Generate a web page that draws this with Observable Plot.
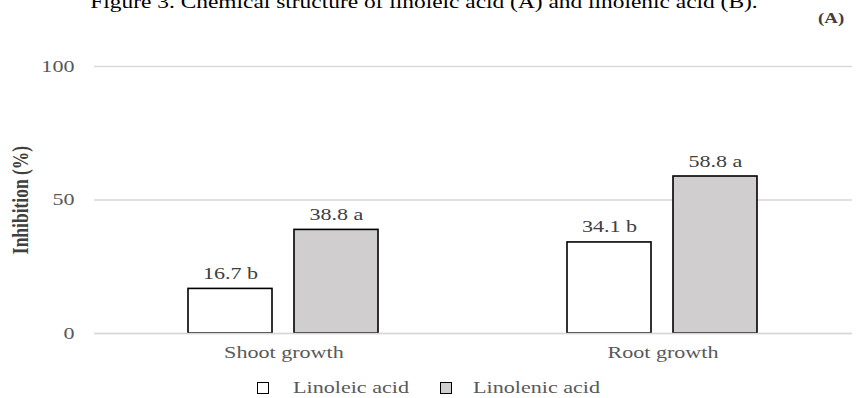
<!DOCTYPE html>
<html>
<head>
<meta charset="utf-8">
<script src="https://cdn.jsdelivr.net/npm/d3@7"></script>
<script src="https://cdn.jsdelivr.net/npm/@observablehq/plot@0.6"></script>
<style>
  html, body { margin: 0; padding: 0; background: #fff; }
  #wrap { width: 862px; font-family: "Liberation Serif", "Times New Roman", serif; }
  #head { position: relative; height: 40px; overflow: hidden; }
  #title { position: absolute; top: -8px; left: 0; width: 848px; text-align: center; font-size: 18px; line-height: 20px; color: #000; white-space: nowrap; transform: scaleX(1.3); transform-origin: 424px 0; }
  #tag { position: absolute; top: 10px; left: 818px; font-size: 14.5px; font-weight: bold; color: #404040; transform: scaleX(1.3); transform-origin: 0 0; }
  #legend { position: relative; height: 33px; font-size: 17px; color: #595959; }
  .sw { position: absolute; top: 17px; box-sizing: border-box; width: 12px; height: 12px; border: 1.6px solid #000; }
  .lt { position: absolute; top: 13px; line-height: 20px; white-space: nowrap; transform: scaleX(1.3); transform-origin: 0 0; }
  svg { display: block; }
</style>
</head>
<body>
<div id="wrap">
  <div id="head">
    <div id="title">Figure 3. Chemical structure of linoleic acid (A) and linolenic acid (B).</div>
    <div id="tag">(A)</div>
  </div>
  <div id="chart"></div>
  <div id="legend"></div>
</div>
<script>
// Growth parameters and the two fatty acids tested
const categories = ["Shoot growth", "Root growth"];
const acids = ["Linoleic acid", "Linolenic acid"];
const linoleic = [16.7, 34.1];
const linolenic = [38.8, 58.8];
const linoleicLetters = ["b", "b"];
const linolenicLetters = ["a", "a"];
const yTicks = [0, 50, 100];
const fills = ["#ffffff", "#d0cece"];

const rows = [];
categories.forEach((c, i) => {
  rows.push({category: c, acid: acids[0], value: linoleic[i], letter: linoleicLetters[i]});
  rows.push({category: c, acid: acids[1], value: linolenic[i], letter: linolenicLetters[i]});
});

const chart = Plot.plot({
  width: 862,
  height: 325,
  marginTop: 26,
  marginBottom: 32,
  marginLeft: 94,
  marginRight: 10,
  style: {fontFamily: "'Liberation Serif', 'Times New Roman', serif", fontSize: "17px", color: "#595959", background: "#fff"},
  fx: {domain: categories, paddingInner: 0, paddingOuter: 0, label: null},
  x: {domain: acids, paddingInner: 0.2056, paddingOuter: 0.874, axis: null},
  y: {domain: [0, 100], ticks: yTicks},
  color: {domain: acids, range: fills},
  marks: [
    // horizontal gridlines, repeated in each facet so they run across the full width
    Plot.ruleY(yTicks, {stroke: "#d9d9d9", strokeWidth: 1.3}),
    Plot.barY(rows, {fx: "category", x: "acid", y: "value", fill: "acid", stroke: "#000", strokeWidth: 1.6}),
    // baseline drawn over the bars' bottom edges
    Plot.ruleY([0], {stroke: "#d9d9d9", strokeWidth: 1.6}),
    Plot.text(rows, {fx: "category", x: "acid", y: "value", text: d => `${d.value.toFixed(1)} ${d.letter}`,
      dy: -10, lineAnchor: "bottom", fill: "#404040", fontSize: 17}),
    Plot.axisY({ticks: yTicks, tickSize: 0, tickPadding: 20, fill: "#595959", fontSize: 17,
      label: "Inhibition (%)", labelAnchor: "center", labelArrow: "none", labelOffset: 81}),
    Plot.axisFx({anchor: "bottom", tickSize: 0, tickPadding: 12, fill: "#595959", fontSize: 17, label: null})
  ]
});
document.getElementById("chart").appendChild(chart);

// Widen glyphs horizontally about each text's anchor point
chart.querySelectorAll("text").forEach(t => {
  const isLabel = t.textContent === "Inhibition (%)";
  if (isLabel) {
    t.setAttribute("font-weight", "bold");
    t.setAttribute("font-size", "17.5");
    t.setAttribute("fill", "#404040");
  }
  const anchor = isLabel ? "middle" : getComputedStyle(t).textAnchor;
  const g = document.createElementNS("http://www.w3.org/2000/svg", "g");
  t.parentNode.insertBefore(g, t);
  g.appendChild(t);
  const b = g.getBBox();
  const ax = anchor === "end" ? b.x + b.width : anchor === "middle" ? b.x + b.width / 2 : b.x;
  g.setAttribute("transform", `translate(${ax},0) scale(1.3,1) translate(${-ax},0)`);
});

// Legend below the chart
const legend = document.getElementById("legend");
const swatchLeft = [257, 440];
const labelLeft = [293, 473];
acids.forEach((a, i) => {
  const sw = document.createElement("span");
  sw.className = "sw";
  sw.style.left = swatchLeft[i] + "px";
  sw.style.background = fills[i];
  legend.appendChild(sw);
  const lt = document.createElement("span");
  lt.className = "lt";
  lt.style.left = labelLeft[i] + "px";
  lt.textContent = a;
  legend.appendChild(lt);
});
</script>
</body>
</html>
